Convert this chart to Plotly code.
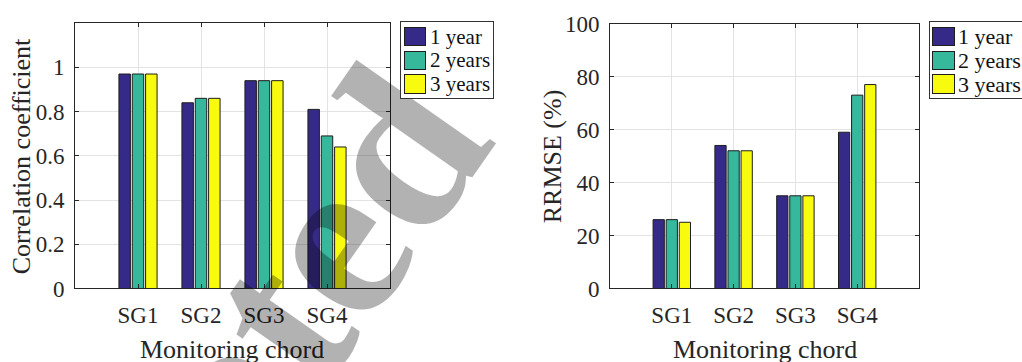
import plotly.graph_objects as go

# Monitoring chords and forecast horizons
chords = ["SG1", "SG2", "SG3", "SG4"]
horizons = ["1 year", "2 years", "3 years"]
colors = ["#352a87", "#36b89d", "#f9fb0e"]

# Correlation coefficient per chord, one list per horizon
corr_1y = [0.97, 0.84, 0.94, 0.81]
corr_2y = [0.97, 0.86, 0.94, 0.69]
corr_3y = [0.97, 0.86, 0.94, 0.64]

# RRMSE (%) per chord, one list per horizon
rrmse_1y = [26, 54, 35, 59]
rrmse_2y = [26, 52, 35, 73]
rrmse_3y = [25, 52, 35, 77]

corr_ticks = [0, 0.2, 0.4, 0.6, 0.8, 1.0]
corr_ticktext = ["0", "0.2", "0.4", "0.6", "0.8", "1"]
rrmse_ticks = [0, 20, 40, 60, 80, 100]
rrmse_ticktext = ["0", "20", "40", "60", "80", "100"]

W, H = 1022, 362
FONT = "Liberation Serif"
INK = "#262626"


def px(x):
    return x / W


def py(y):
    return 1 - y / H


fig = go.Figure()

for vals, name, col in zip([corr_1y, corr_2y, corr_3y], horizons, colors):
    fig.add_trace(go.Bar(x=chords, y=vals, name=name, marker_color=col,
                         marker_line=dict(color="#1e1e1e", width=1),
                         xaxis="x", yaxis="y", showlegend=False))
for vals, name, col in zip([rrmse_1y, rrmse_2y, rrmse_3y], horizons, colors):
    fig.add_trace(go.Bar(x=chords, y=vals, name=name, marker_color=col,
                         marker_line=dict(color="#1e1e1e", width=1),
                         xaxis="x2", yaxis="y2", showlegend=False))

axis_common = dict(showline=True, linecolor=INK, linewidth=1, mirror="allticks",
                   ticks="inside", ticklen=4, tickcolor=INK, showgrid=True,
                   gridcolor="#e3e3e3", gridwidth=1, zeroline=False,
                   tickfont=dict(family=FONT, size=23, color=INK))

fig.update_layout(
    width=W, height=H, margin=dict(l=0, r=0, t=0, b=0),
    paper_bgcolor="white", plot_bgcolor="white",
    barmode="group", bargap=0.365, bargroupgap=0.14,
    font=dict(family=FONT, color=INK),
    xaxis=dict(domain=[px(75), px(390)], anchor="y", range=[-1, 4],
               type="category", ticklabelstandoff=6, **axis_common),
    yaxis=dict(domain=[py(297), py(12)], anchor="x", range=[0, 1.2],
               tickvals=corr_ticks, ticktext=corr_ticktext,
               ticklabelstandoff=5, **axis_common),
    xaxis2=dict(domain=[px(610), px(919)], anchor="y2", range=[-1, 4],
                type="category", ticklabelstandoff=6, **axis_common),
    yaxis2=dict(domain=[py(297), py(12.5)], anchor="x2", range=[0, 100],
                tickvals=rrmse_ticks, ticktext=rrmse_ticktext,
                ticklabelstandoff=5, **axis_common),
)

annotations = []


def label(text, x, y, size, angle=0, anchor="center", color=INK):
    annotations.append(dict(text=text, x=px(x), y=py(y), xref="paper", yref="paper",
                            showarrow=False, textangle=angle, xanchor=anchor,
                            yanchor="middle", font=dict(family=FONT, size=size, color=color)))


# Axis titles
label("Monitoring chord", 232, 362, 26)
label("Correlation coefficient", 21, 155, 26, angle=-90)
label("Monitoring chord", 765, 362, 26)
label("RRMSE (%)", 552, 155, 26, angle=-90)

# Diagonal "Accepted" watermark, laid over the bars
annotations.append(dict(text="<b>Accepted</b>", x=px(168), y=py(496),
                        xref="paper", yref="paper", showarrow=False, textangle=-55,
                        xanchor="center", yanchor="middle",
                        font=dict(family=FONT, size=234, color="rgba(0,0,0,0.3)")))


# Boxed legends with large swatches, one per panel (drawn above the watermark)
def box(x0, x1, y0, y1, fill, edge):
    annotations.append(dict(text=" ", x=px((x0 + x1) / 2), y=py((y0 + y1) / 2),
                            xref="paper", yref="paper", showarrow=False,
                            xanchor="center", yanchor="middle",
                            width=x1 - x0 - 2, height=y1 - y0 - 2, borderpad=0,
                            bgcolor=fill, bordercolor=edge, borderwidth=1))


def add_legend(x0, x1, y0, y1, sw_x0, sw_x1, text_x, size):
    box(x0, x1, y0, y1, "white", "#333333")
    rows = [(17.3, 36.0), (42.3, 61.7), (67.7, 87.3)]
    for (r0, r1), name, col in zip(rows, horizons, colors):
        box(sw_x0, sw_x1, r0, r1, col, "#1e1e1e")
        label(name, text_x, (r0 + r1) / 2, size, anchor="left", color="#111111")


add_legend(400, 494, 12.7, 91, 403.3, 425.7, 427.5, 21)
add_legend(929, 1040, 12.7, 90.7, 932.3, 955, 955.5, 22)

fig.update_layout(annotations=annotations)
fig.write_html("out.html")
